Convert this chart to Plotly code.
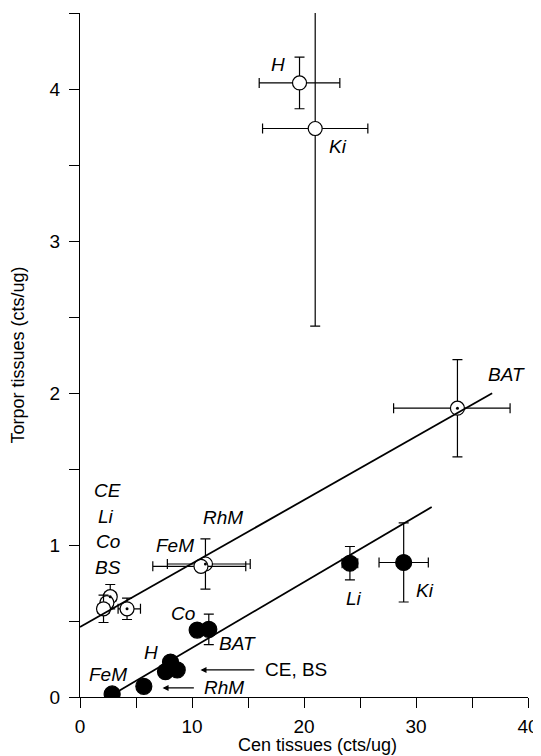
import plotly.graph_objects as go

# ---- data ----
open_names = ["H", "Ki", "BAT", "RhM", "FeM", "CE", "Li", "Co", "BS"]
open_x = [19.6, 21.0, 33.7, 11.2, 10.8, 2.7, 2.4, 2.1, 4.2]
open_y = [4.04, 3.74, 1.90, 0.875, 0.86, 0.66, 0.62, 0.58, 0.58]
open_ex_plus = [3.6, 4.7, 4.7, 4.0, 4.0, 0.5, 0.5, 0.5, 1.2]
open_ex_minus = [3.6, 4.7, 5.7, 3.4, 4.3, 0.5, 0.5, 0.5, 0.8]
open_ey = [0.17, 1.30, 0.32, 0.165, 0.0, 0.08, 0.0, 0.09, 0.07]
open_dotted = ["BAT", "RhM", "BS", "CE"]

filled_names = ["FeM", "RhM", "CE", "H", "BS", "Co", "BAT", "Li", "Ki"]
filled_x = [2.87, 5.7, 7.63, 8.08, 8.68, 10.46, 11.5, 24.1, 28.9]
filled_y = [0.02, 0.07, 0.167, 0.23, 0.178, 0.44, 0.445, 0.88, 0.885]
filled_ex = [0, 0, 0, 0, 0, 0, 0, 0.7, 2.2]
filled_ey = [0, 0, 0, 0, 0, 0, 0.1, 0.11, 0.26]

# regression lines: (intercept, slope, x_start, x_end)
fit_open = (0.46, 0.0418, 0.0, 36.8)
fit_filled = (-0.11, 0.0433, 3.0, 31.4)

x_ticks = [0, 10, 20, 30, 40]
y_ticks = [0, 1, 2, 3, 4]

FONT = "Liberation Sans, Arial, sans-serif"
FS = 19
fig = go.Figure()

def add_point(x, y, exp, exm, ey, filled):
    fig.add_trace(go.Scatter(
        x=[x], y=[y], mode="markers",
        marker=dict(symbol="circle", size=16 if filled else 14,
                    color="black" if filled else "white",
                    line=dict(color="black", width=1.2)),
        error_x=dict(type="data", symmetric=False, array=[exp], arrayminus=[exm],
                     visible=(exp > 0 or exm > 0), color="black", thickness=1.2, width=5),
        error_y=dict(type="data", array=[ey], visible=ey > 0,
                     color="black", thickness=1.2, width=5),
        showlegend=False, hoverinfo="skip"))

for i in range(len(open_names)):
    add_point(open_x[i], open_y[i], open_ex_plus[i], open_ex_minus[i], open_ey[i], False)
for i in range(len(filled_names)):
    add_point(filled_x[i], filled_y[i], filled_ex[i], filled_ex[i], filled_ey[i], True)

# dots inside some open circles
dx = [open_x[i] for i, n in enumerate(open_names) if n in open_dotted]
dy = [open_y[i] for i, n in enumerate(open_names) if n in open_dotted]
fig.add_trace(go.Scatter(x=dx, y=dy, mode="markers",
                         marker=dict(size=3, color="black"),
                         showlegend=False, hoverinfo="skip"))

for b, m, x0, x1 in (fit_open, fit_filled):
    fig.add_trace(go.Scatter(x=[x0, x1], y=[b + m * x0, b + m * x1], mode="lines",
                             line=dict(color="black", width=1.8),
                             showlegend=False, hoverinfo="skip"))

# labels (italic)
labels = [
    ("H", 17.66, 4.16), ("Ki", 23.0, 3.62), ("BAT", 38.1, 2.125),
    ("CE", 2.46, 1.36), ("Li", 2.28, 1.19), ("Co", 2.46, 1.02), ("BS", 2.46, 0.855),
    ("RhM", 12.8, 1.18), ("FeM", 8.44, 1.0),
    ("Co", 9.24, 0.55), ("BAT", 14.06, 0.355), ("H", 6.3, 0.296), ("FeM", 2.46, 0.145),
    ("Li", 24.5, 0.65), ("Ki", 30.8, 0.70),
]
for t, x, y in labels:
    fig.add_annotation(x=x, y=y, text=f"<i>{t}</i>", showarrow=False,
                       font=dict(family=FONT, size=FS, color="black"))

# arrows
arrows = [("CE, BS", 15.7, 10.76, 0.178, False), ("RhM", 10.3, 7.37, 0.06, True)]
for t, tail, head, y, ital in arrows:
    fig.add_annotation(x=head, y=y, ax=tail, ay=y, axref="x", ayref="y",
                       text="", showarrow=True, arrowhead=2, arrowsize=1,
                       arrowwidth=1.2, arrowcolor="black")
    fig.add_annotation(x=tail + 0.6, y=y, text=f"<i>{t}</i>" if ital else t,
                       showarrow=False, xanchor="left",
                       font=dict(family=FONT, size=FS, color="black"))

# x-axis title (placed as annotation, slightly right of plot centre as in the reference)
fig.add_annotation(xref="paper", yref="paper", x=0.531, y=0, yanchor="middle", yshift=-48,
                   text="Cen tissues (cts/ug)", showarrow=False,
                   font=dict(family=FONT, size=18, color="black"))

axis_common = dict(showline=True, linecolor="black", linewidth=1.2, ticks="outside",
                   ticklen=10, tickwidth=1.2, tickcolor="black", showgrid=False,
                   zeroline=False, tickfont=dict(family=FONT, size=FS, color="black"))

fig.update_xaxes(range=[0, 40], tickvals=x_ticks, ticktext=[str(v) for v in x_ticks],
                 minor=dict(ticks="outside", ticklen=10, tickwidth=1.2, tickcolor="black",
                            dtick=5, tick0=0),
                 ticklabelstandoff=2,
                 **axis_common)
fig.update_yaxes(range=[0, 4.5], tickvals=y_ticks, ticktext=[str(v) for v in y_ticks],
                 minor=dict(ticks="outside", ticklen=10, tickwidth=1.2, tickcolor="black",
                            dtick=0.5, tick0=0),
                 ticklabelstandoff=5,
                 title=dict(text="Torpor tissues (cts/ug)", standoff=26,
                            font=dict(family=FONT, size=18, color="black")),
                 **axis_common)

# page body has an 8px margin; size the figure so the plot area lands where the reference has it
fig.update_layout(width=533, height=748,
                  margin=dict(l=72, r=13, t=5, b=59, autoexpand=False),
                  plot_bgcolor="white", paper_bgcolor="white")
fig.write_html("out.html")
